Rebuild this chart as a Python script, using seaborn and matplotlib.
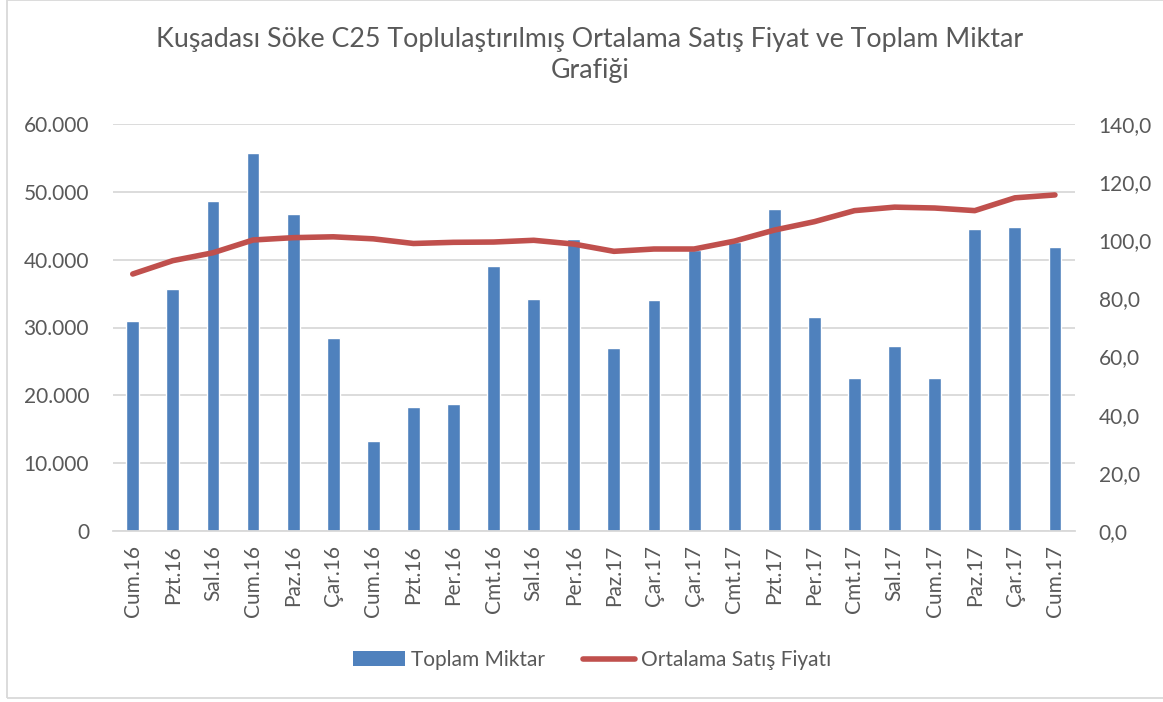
import numpy as np
import pandas as pd
import matplotlib
matplotlib.use('Agg')
import matplotlib.pyplot as plt
from matplotlib.patches import Patch, Rectangle
from matplotlib.lines import Line2D
from matplotlib.ticker import FuncFormatter, MultipleLocator
import seaborn as sns

# ── Data ────────────────────────────────────────────────────────────
gunler = ['Cum.16', 'Pzt.16', 'Sal.16', 'Cum.16', 'Paz.16', 'Çar.16',
          'Cum.16', 'Pzt.16', 'Per.16', 'Cmt.16', 'Sal.16', 'Per.16',
          'Paz.17', 'Çar.17', 'Çar.17', 'Cmt.17', 'Pzt.17', 'Per.17',
          'Cmt.17', 'Sal.17', 'Cum.17', 'Paz.17', 'Çar.17', 'Cum.17']
toplam_miktar = [31000, 35700, 48600, 55700, 46800, 28400,
                 13300, 18250, 18750, 39050, 34200, 43100,
                 27000, 34050, 41400, 42650, 47450, 31600,
                 22500, 27250, 22500, 44450, 44800, 41800]
ortalama_fiyat = [88.4, 93.0, 95.7, 100.1, 100.9, 101.2,
                  100.5, 98.9, 99.3, 99.4, 100.0, 98.7,
                  96.2, 97.0, 97.0, 99.7, 103.5, 106.4,
                  110.2, 111.4, 111.1, 110.2, 114.6, 115.6]

BAR_C  = '#4F81BD'
LINE_C = '#C0504D'
TXT_C  = '#595959'
GRID_C = '#D9D9D9'

sns.set_style('white')
plt.rcParams['font.family'] = ['Lato', 'DejaVu Sans']
plt.rcParams['text.color'] = TXT_C

df = pd.DataFrame({'pos': np.arange(len(gunler)), 'miktar': toplam_miktar,
                   'fiyat': ortalama_fiyat})

fig = plt.figure(figsize=(11.63, 7.02), dpi=100)
ax = fig.add_axes([112.7 / 1163, 1 - 531 / 702, (1075 - 112.7) / 1163, (531 - 124) / 702])

# ── Bars ────────────────────────────────────────────────────────────
sns.barplot(data=df, x='pos', y='miktar', color=BAR_C, saturation=1,
            width=0.32, ax=ax)
ax.set_ylim(0, 60000)
ax.yaxis.set_major_locator(MultipleLocator(10000))
ax.yaxis.set_major_formatter(FuncFormatter(
    lambda v, _: '0' if v == 0 else f'{v:,.0f}'.replace(',', '.')))
ax.grid(axis='y', color=GRID_C, lw=1.3)
ax.set_axisbelow(True)
ax.set_xlim(-0.5, len(gunler) - 0.5)
ax.set_xticks(np.arange(len(gunler)))
ax.set_xticklabels(gunler, rotation=90)
ax.set_xticks(np.arange(len(gunler) + 1) - 0.5, minor=True)
ax.tick_params(axis='x', which='major', length=0, pad=10, labelsize=15, colors=TXT_C)
ax.tick_params(axis='x', which='minor', length=7, width=1.3, color=GRID_C, direction='out')
ax.tick_params(axis='y', length=0, pad=17, labelsize=15, colors=TXT_C)
ax.set_xlabel(''); ax.set_ylabel('')
for s in ['top', 'left', 'right']:
    ax.spines[s].set_visible(False)
ax.spines['bottom'].set_color(GRID_C)
ax.spines['bottom'].set_linewidth(1.3)

# ── Line (secondary axis) ───────────────────────────────────────────
ax2 = ax.twinx()
sns.lineplot(data=df, x='pos', y='fiyat', color=LINE_C, lw=4, ax=ax2,
             solid_capstyle='round')
ax2.set_ylim(0, 140)
ax2.yaxis.set_major_locator(MultipleLocator(20))
ax2.yaxis.set_major_formatter(FuncFormatter(lambda v, _: f'{v:.1f}'.replace('.', ',')))
ax2.tick_params(axis='y', length=0, pad=17, labelsize=15, colors=TXT_C)
ax2.set_xlabel(''); ax2.set_ylabel('')
for s in ['top', 'left', 'right', 'bottom']:
    ax2.spines[s].set_visible(False)
ax2.set_xlim(-0.5, len(gunler) - 0.5)

# ── Title ───────────────────────────────────────────────────────────
fig.text(590 / 1163, 1 - 55 / 702,
         'Kuşadası Söke C25 Toplulaştırılmış Ortalama Satış Fiyat ve Toplam Miktar\nGrafiği',
         ha='center', va='center', fontsize=19.3, color=TXT_C, linespacing=1.3)

# ── Legend ──────────────────────────────────────────────────────────
handles = [Patch(facecolor=BAR_C, edgecolor='none', label='Toplam Miktar'),
           Line2D([], [], color=LINE_C, lw=4, solid_capstyle='round',
                  label='Ortalama Satış Fiyatı')]
fig.legend(handles=handles, loc='center', bbox_to_anchor=(592 / 1163, 1 - 660 / 702),
           ncol=2, frameon=False, fontsize=15, handlelength=2.5, handleheight=0.7,
           handletextpad=0.3, columnspacing=1.8, labelcolor=TXT_C)

# chart frame
fig.patches.append(Rectangle((6.5 / 1163, 1 - 698 / 702), 1.2, 698 / 702 - 0.0005,
                             transform=fig.transFigure, fill=False,
                             edgecolor=GRID_C, lw=1.3))

fig.savefig('out.png', dpi=100)
plt.close(fig)
